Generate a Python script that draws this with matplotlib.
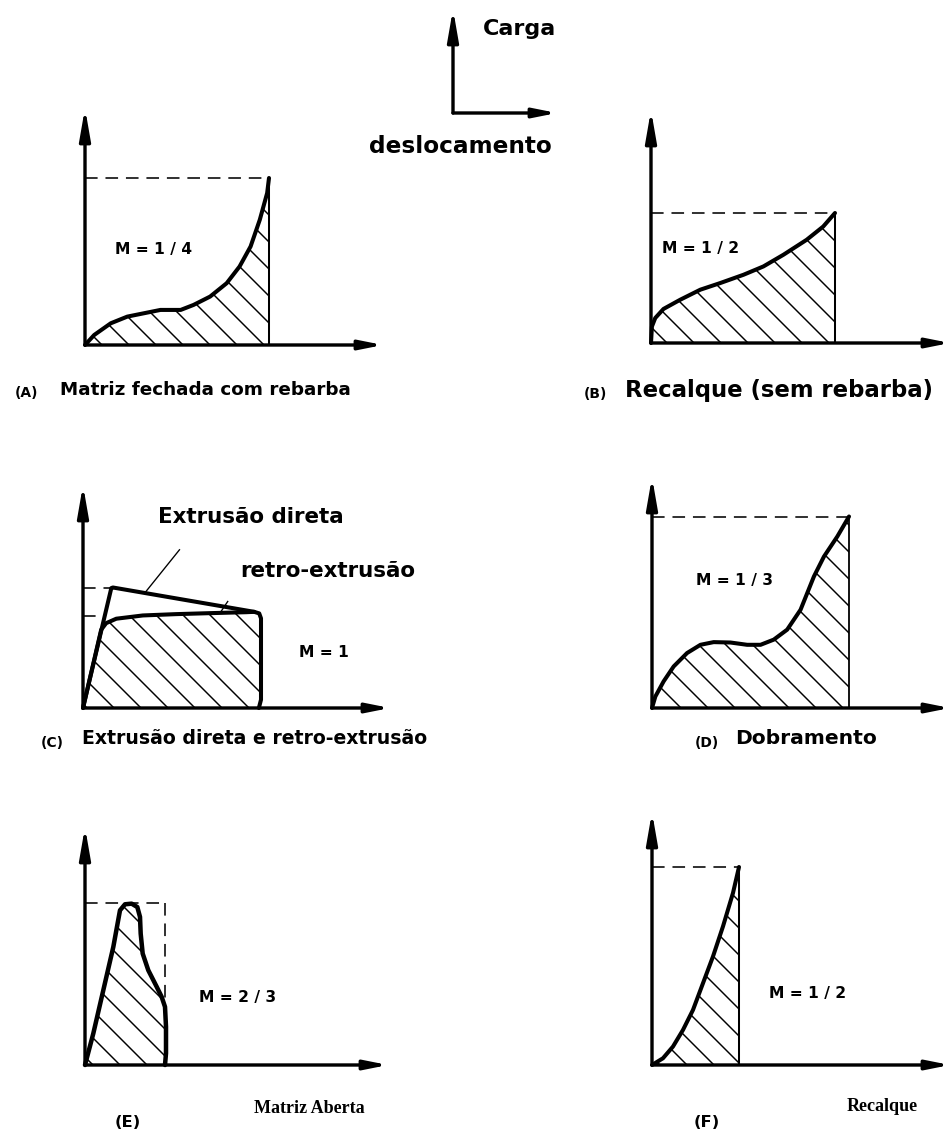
import matplotlib
matplotlib.use('Agg')
import matplotlib.pyplot as plt
from matplotlib.patches import Polygon

# ---------------- data (normalized: displacement / final displacement, load / peak load) -------------
A_disp = [0, 0.05, 0.14, 0.23, 0.32, 0.41, 0.52, 0.59, 0.68, 0.77, 0.84, 0.90, 0.95, 0.99, 1.0]
A_load = [0, 0.06, 0.13, 0.17, 0.19, 0.21, 0.21, 0.24, 0.29, 0.37, 0.47, 0.59, 0.75, 0.91, 1.0]

B_disp = [0, 0.005, 0.023, 0.068, 0.159, 0.268, 0.376, 0.503, 0.611, 0.72, 0.846, 0.936, 1.0]
B_load = [0, 0.127, 0.192, 0.262, 0.333, 0.41, 0.461, 0.525, 0.589, 0.679, 0.794, 0.896, 1.0]

C_direct_disp = [0, 0.159, 0.168, 0.962, 0.99, 1.0, 1.0, 1.0, 0.988]
C_direct_load = [0, 0.995, 1.0, 0.798, 0.785, 0.744, 0.647, 0.069, 0]
C_retro_disp = [0, 0.102, 0.13, 0.187, 0.336, 0.523, 0.71, 0.916, 0.962]
C_retro_load = [0, 0.649, 0.704, 0.741, 0.768, 0.779, 0.787, 0.795, 0.798]
C_retro_peak = 0.76

D_disp = [0, 0.017, 0.059, 0.11, 0.178, 0.246, 0.313, 0.398, 0.483, 0.551, 0.618, 0.686, 0.754,
          0.822, 0.873, 0.941, 1.0]
D_load = [0, 0.06, 0.139, 0.217, 0.287, 0.33, 0.344, 0.342, 0.33, 0.33, 0.357, 0.409, 0.513,
          0.687, 0.791, 0.896, 1.0]

E_disp = [0, 0.104, 0.229, 0.354, 0.4375, 0.5, 0.583, 0.654, 0.6875, 0.696, 0.721, 0.791, 0.896,
          0.958, 1.0, 1.0125, 1.0125, 1.0]
E_load = [0, 0.195, 0.462, 0.729, 0.955, 0.992, 0.996, 0.975, 0.914, 0.811, 0.688, 0.585, 0.483,
          0.421, 0.359, 0.236, 0.072, 0]

F_disp = [0, 0.126, 0.241, 0.356, 0.471, 0.586, 0.701, 0.816, 0.931, 1.0]
F_load = [0, 0.034, 0.093, 0.177, 0.278, 0.413, 0.548, 0.7, 0.869, 1.0]

M_labels = {"A": "M = 1 / 4", "B": "M = 1 / 2", "C": "M = 1", "D": "M = 1 / 3",
            "E": "M = 2 / 3", "F": "M = 1 / 2"}
captions = {"A": "Matriz fechada com rebarba", "B": "Recalque (sem rebarba)",
            "C": "Extrusão direta e retro-extrusão", "D": "Dobramento"}
bottom_labels = {"E": "Matriz Aberta", "F": "Recalque"}
axis_labels = ("Carga", "deslocamento")

# ---------------- figure ----------------
DPI = 162
W, H = 951, 1129
plt.rcParams['hatch.linewidth'] = 0.65
fig = plt.figure(figsize=(W / DPI, H / DPI), dpi=DPI)
fig.patch.set_facecolor('white')

bg = fig.add_axes([0, 0, 1, 1])
bg.set_xlim(0, W)
bg.set_ylim(H, 0)
bg.axis('off')

SANS = dict(family='DejaVu Sans', weight='bold', color='black')
SERIF = dict(family='Liberation Serif', weight='bold', color='black')

AX_LW = 1.5
CURVE_LW = 1.8
XHEAD = (0.85, 0.17)
YHEAD = (1.15, 0.2)


def arrow(ax, xy, xytext, coords, head, lw=AX_LW):
    hl, hw = head
    ax.annotate('', xy=xy, xytext=xytext, xycoords=coords, textcoords=coords,
                arrowprops=dict(arrowstyle='-|>,head_length=%g,head_width=%g' % (hl, hw),
                                lw=lw, color='black', shrinkA=0, shrinkB=0,
                                mutation_scale=10),
                annotation_clip=False)


def make_panel(ox, oy, w, h, ytop, xend):
    ax = fig.add_axes([ox / W, (H - oy) / H, (xend - ox) / W, (oy - ytop) / H])
    ax.set_xlim(0, (xend - ox) / w)
    ax.set_ylim(0, (oy - ytop) / h)
    ax.axis('off')
    arrow(ax, (1, 0), (0, 0), 'axes fraction', XHEAD)
    arrow(ax, (0, 1), (0, 0), 'axes fraction', YHEAD)
    return ax


def dashed(ax, xs, ys):
    ax.plot(xs, ys, color='black', lw=0.7, dashes=(8, 5), clip_on=False)


def curve(ax, xs, ys, lw=CURVE_LW):
    ax.plot(xs, ys, color='black', lw=lw, solid_joinstyle='round',
            solid_capstyle='round', clip_on=False, zorder=3)


def hatch(ax, xs, ys):
    poly = Polygon(list(zip(xs, ys)), closed=True, fill=False, edgecolor='black',
                   linewidth=0, hatch='\\\\')
    ax.add_patch(poly)


# ---- top legend (Carga / deslocamento)
arrow(bg, (453, 9), (453, 113), 'data', YHEAD)
arrow(bg, (557, 113), (453, 113), 'data', XHEAD)
bg.text(519, 35, axis_labels[0], ha='center', va='baseline', fontsize=9.9, **SANS)
bg.text(460, 153, axis_labels[1], ha='center', va='baseline', fontsize=10.3, **SANS)

# ---- Panel A
ax = make_panel(85, 345, 184, 167, 108, 383)
hatch(ax, A_disp + [1.0], A_load + [0.0])
curve(ax, A_disp, A_load)
ax.plot([1, 1], [0, 1], color='black', lw=0.9)
dashed(ax, [0, 1], [1, 1])
bg.text(154, 254, M_labels["A"], ha='center', va='baseline', fontsize=6.9, **SANS)
bg.text(27, 397, "(A)", ha='center', va='baseline', fontsize=6.2, **SANS)
bg.text(60, 395, captions["A"], ha='left', va='baseline', fontsize=8.2, **SANS)

# ---- Panel B
ax = make_panel(651, 343, 184, 130, 110, 950)
hatch(ax, B_disp + [1.0], B_load + [0.0])
curve(ax, B_disp, B_load)
ax.plot([1, 1], [0, 1], color='black', lw=0.9)
dashed(ax, [0, 1], [1, 1])
bg.text(701, 253, M_labels["B"], ha='center', va='baseline', fontsize=6.9, **SANS)
bg.text(595, 398, "(B)", ha='center', va='baseline', fontsize=6.2, **SANS)
bg.text(625, 397, captions["B"], ha='left', va='baseline', fontsize=10.1, **SANS)

# ---- Panel C
ax = make_panel(83, 708, 178, 120.5, 485, 390)
hatch(ax, C_retro_disp + C_direct_disp[3:], C_retro_load + C_direct_load[3:])
curve(ax, C_direct_disp, C_direct_load)
curve(ax, C_retro_disp, C_retro_load)
dashed(ax, [0, C_direct_disp[1]], [1, 1])
dashed(ax, [0, C_retro_disp[1]], [C_retro_peak, C_retro_peak])
ax.plot([0.542, 0.35], [1.313, 0.96], color='black', lw=0.6, clip_on=False)
ax.plot([0.813, 0.775], [0.884, 0.80], color='black', lw=0.6, clip_on=False)
bg.text(251, 523, "Extrusão direta", ha='center', va='baseline', fontsize=9.5, **SANS)
bg.text(240, 577, "retro-extrusão", ha='left', va='baseline', fontsize=9.5, **SANS)
bg.text(324, 657, M_labels["C"], ha='center', va='baseline', fontsize=6.9, **SANS)
bg.text(52, 747, "(C)", ha='center', va='baseline', fontsize=6.2, **SANS)
bg.text(82, 744, captions["C"], ha='left', va='baseline', fontsize=8.4, **SANS)

# ---- Panel D
ax = make_panel(652, 708, 197, 191.5, 477, 950)
hatch(ax, D_disp + [1.0], D_load + [0.0])
curve(ax, D_disp, D_load)
ax.plot([1, 1], [0, 1], color='black', lw=0.8)
dashed(ax, [0, 1], [1, 1])
bg.text(734, 585, M_labels["D"], ha='center', va='baseline', fontsize=6.9, **SANS)
bg.text(707, 747, "(D)", ha='center', va='baseline', fontsize=6.2, **SANS)
bg.text(735, 744, captions["D"], ha='left', va='baseline', fontsize=9.0, **SANS)

# ---- Panel E
ax = make_panel(85, 1065, 80, 162, 827, 388)
hatch(ax, E_disp, E_load)
curve(ax, E_disp, E_load, lw=2.0)
dashed(ax, [0, 1], [1, 1])
dashed(ax, [1, 1], [1, 0.4])
bg.text(238, 1002, M_labels["E"], ha='center', va='baseline', fontsize=6.9, **SANS)
bg.text(309, 1113, bottom_labels["E"], ha='center', va='baseline', fontsize=8.0, **SERIF)
bg.text(128, 1127, "(E)", ha='center', va='baseline', fontsize=7.3, **SANS)

# ---- Panel F
ax = make_panel(652, 1065, 87, 198, 812, 950)
hatch(ax, F_disp + [1.0], F_load + [0.0])
curve(ax, F_disp, F_load)
ax.plot([1, 1], [0, 1], color='black', lw=0.9)
dashed(ax, [0, 1], [1, 1])
bg.text(808, 998, M_labels["F"], ha='center', va='baseline', fontsize=6.9, **SANS)
bg.text(882, 1111, bottom_labels["F"], ha='center', va='baseline', fontsize=8.0, **SERIF)
bg.text(707, 1127, "(F)", ha='center', va='baseline', fontsize=7.3, **SANS)

fig.savefig('out.png', dpi=DPI, facecolor='white')
